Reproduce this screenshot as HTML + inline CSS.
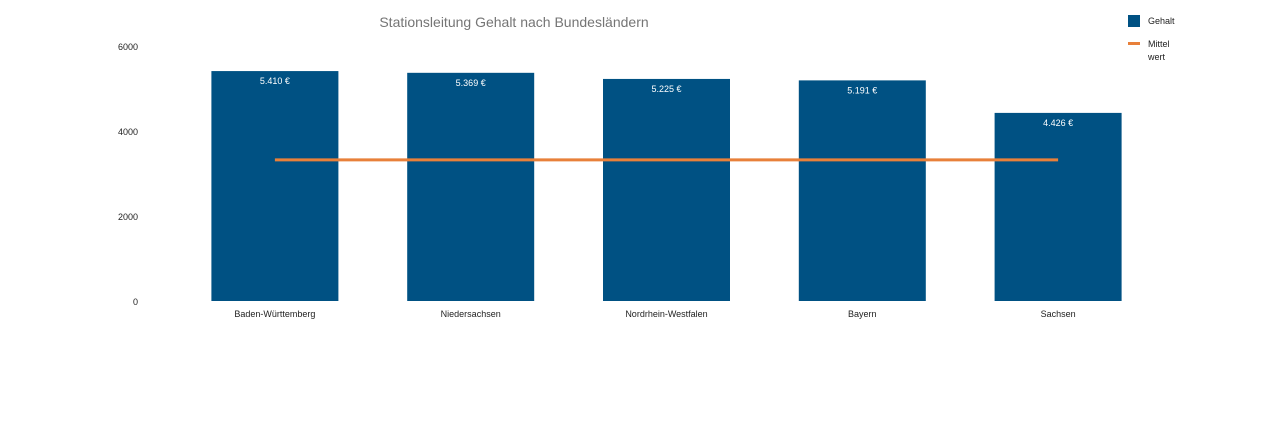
<!DOCTYPE html>
<html><head><meta charset="utf-8"><style>
body{margin:0;background:#fff;font-family:"Liberation Sans",sans-serif;}
svg text{font-family:"Liberation Sans",sans-serif;}
</style></head><body>
<svg id="chart" width="1264" height="438" viewBox="0 0 1264 438" xmlns="http://www.w3.org/2000/svg">
<text x="514" y="27" text-anchor="middle" font-size="14" fill="#757575">Stationsleitung Gehalt nach Bundesländern</text>
<g id="yaxis"></g>
<g id="bars"></g>
<g id="xaxis"></g>
<g id="mean"></g>
<g>
<rect x="1128" y="15" width="12" height="12" fill="#005183"/>
<text x="1148" y="24" font-size="9" fill="#222">Gehalt</text>
<rect x="1128" y="42" width="12" height="3" fill="#e8803a"/>
<text x="1148" y="47" font-size="9" fill="#222">Mittel</text>
<text x="1148" y="60" font-size="9" fill="#222">wert</text>
</g>
</svg>
<script>
const categories=["Baden-Württemberg","Niedersachsen","Nordrhein-Westfalen","Bayern","Sachsen"];
const values=[5410,5369,5225,5191,4426];
const valueLabels=["5.410 €","5.369 €","5.225 €","5.191 €","4.426 €"];
const meanValue=3320;
const yTicks=[0,2000,4000,6000];
const NS="http://www.w3.org/2000/svg";
const x0=177,x1=1156,yBase=301,yTop=46,yMax=6000;
const band=(x1-x0)/categories.length,bw=127;
const y=v=>yBase-(v/yMax)*(yBase-yTop);
const cx=i=>x0+band*(i+0.5);
function mk(t,a,p){const e=document.createElementNS(NS,t);for(const k in a)e.setAttribute(k,a[k]);p.appendChild(e);return e;}
const ya=document.getElementById('yaxis');
yTicks.forEach(t=>{const e=mk('text',{x:138,y:y(t)+4,'text-anchor':'end','font-size':9,fill:'#222'},ya);e.textContent=t;

});
const bg=document.getElementById('bars'),xa=document.getElementById('xaxis');
values.forEach((v,i)=>{const r=mk('rect',{x:cx(i)-bw/2,y:y(v),width:bw,height:yBase-y(v),fill:'#005183'},bg);


const l=mk('text',{x:cx(i),y:y(v)+13,'text-anchor':'middle','font-size':9,fill:'#fff'},bg);l.textContent=valueLabels[i];


const c=mk('text',{x:cx(i),y:317,'text-anchor':'middle','font-size':9,fill:'#222'},xa);c.textContent=categories[i];

});
const m=mk('line',{x1:cx(0),x2:cx(categories.length-1),y1:y(meanValue),y2:y(meanValue),stroke:'#e8803a','stroke-width':3},document.getElementById('mean'));


</script>
</body></html>
